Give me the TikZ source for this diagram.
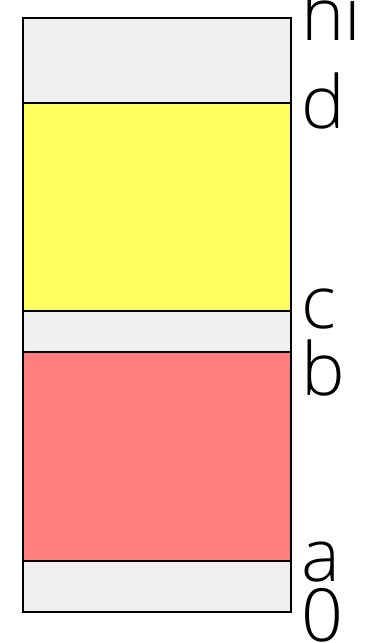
\documentclass[tikz,border=0pt]{standalone}
\usepackage{fontspec}
\setmainfont{Open Sans Light}
\definecolor{bggray}{HTML}{F0F0F0}
\definecolor{yel}{HTML}{FFFF60}
\definecolor{redf}{HTML}{FF7F7F}
\begin{document}
\begin{tikzpicture}[x=0.75pt,y=-0.75pt,
  band/.style={draw=black,line width=1.5pt},
  lab/.style={anchor=base west,inner sep=0pt,font=\fontsize{55}{55}\selectfont}]
\useasboundingbox (0,0) rectangle (373,643);
\fill[bggray] (23,18) rectangle (291,612);
\filldraw[band,fill=yel] (23,103) rectangle (291,311);
\filldraw[band,fill=redf] (23,352) rectangle (291,561);
\draw[band] (23,18) rectangle (291,612);
\node[lab] (hi) at (301,40) {hi};
\node[lab] (d) at (301,128) {d};
\node[lab] (c) at (301,328) {c};
\node[lab] (b) at (301,395) {b};
\node[lab] (a) at (301,581) {a};
\node[lab] (z) at (301,641) {0};
\end{tikzpicture}
\end{document}
